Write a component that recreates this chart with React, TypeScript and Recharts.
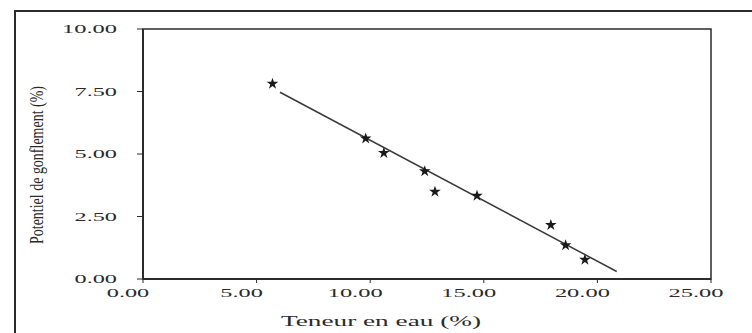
import { ScatterChart, Scatter, XAxis, YAxis, ReferenceArea, Symbols } from "recharts"

// measured points: teneur en eau (%) vs potentiel de gonflement (%)
const waterContent = [5.7, 9.8, 10.6, 12.4, 12.85, 14.7, 17.95, 18.6, 19.45]
const swellPotential = [7.81, 5.62, 5.04, 4.31, 3.49, 3.33, 2.16, 1.35, 0.77]

// fitted line, read at its two ends
const fitX = [6.03, 20.85]
const fitY = [7.47, 0.3]

const xTicks = [0, 5, 10, 15, 20, 25]
const yTicks = [0, 2.5, 5, 7.5, 10]

const points = waterContent.map((x, i) => ({ x, y: swellPotential[i] }))
const fitLine = fitX.map((x, i) => ({ x, y: fitY[i] }))

const ink = "#2b2b2b"
const font = "'Liberation Serif', 'Times New Roman', serif"

// the scan is stretched sideways, so the glyphs are widened with textLength
const stretchedWidth = (s: string) => s.split("").reduce((w, c) => w + (c === "." ? 5 : 12.5), 0)

function XTick({ x, y, payload }: any) {
  const label = payload.value.toFixed(2)
  return (
    <text x={x - 15} y={y + 12} textAnchor="middle" fontSize={12} fontFamily={font} fill={ink}
      textLength={stretchedWidth(label)} lengthAdjust="spacingAndGlyphs">
      {label}
    </text>
  )
}

function YTick({ x, y, payload }: any) {
  const label = payload.value.toFixed(2)
  return (
    <text x={x} y={y + 4} textAnchor="end" fontSize={12} fontFamily={font} fill={ink}
      textLength={stretchedWidth(label)} lengthAdjust="spacingAndGlyphs">
      {label}
    </text>
  )
}

function YTitle({ viewBox }: any) {
  const cx = viewBox.x + 37
  const cy = viewBox.y + viewBox.height / 2 + 11
  return (
    <text x={cx} y={cy} transform={`rotate(-90, ${cx}, ${cy})`} textAnchor="middle" dominantBaseline="central"
      fontSize={18} fontFamily={font} fill={ink} textLength={158} lengthAdjust="spacingAndGlyphs">
      Potentiel de gonflement (%)
    </text>
  )
}

function XTitle({ viewBox }: any) {
  const cx = viewBox.x + viewBox.width / 2 - 46
  return (
    <text x={cx} y={326} textAnchor="middle" fontSize={14} fontFamily={font} fill={ink}
      textLength={200} lengthAdjust="spacingAndGlyphs">
      Teneur en eau (%)
    </text>
  )
}

const noDot = () => <g />

function StarDot({ cx, cy }: any) {
  return <Symbols type="star" size={42} cx={cx} cy={cy} fill="#1a1a1a" />
}

export default function App() {
  return (
    <div style={{ position: "relative", width: 752, height: 333, background: "#fff", overflow: "hidden" }}>
      <style>{"body{margin:0}"}</style>
      {/* frame of the scanned figure */}
      <div style={{ position: "absolute", left: 14, top: 10, width: 760, height: 340, borderTop: `2px solid ${ink}`, borderLeft: `2px solid ${ink}` }} />
      <ScatterChart width={752} height={333} margin={{ top: 29, right: 41, left: 0, bottom: 0 }}>
        <XAxis type="number" dataKey="x" domain={[0, 25]} ticks={xTicks} height={54}
          axisLine={{ stroke: ink, strokeWidth: 2 }} tickLine={{ stroke: ink }} tickSize={4}
          tick={<XTick />} label={<XTitle />} />
        <YAxis type="number" dataKey="y" domain={[0, 10]} ticks={yTicks} width={143}
          axisLine={{ stroke: ink, strokeWidth: 2 }} tickLine={{ stroke: ink }} tickSize={6} tickMargin={20}
          tick={<YTick />} label={<YTitle />} />
        <ReferenceArea x1={0} x2={25} y1={0} y2={10} fill="none" stroke={ink} strokeWidth={1.5} fillOpacity={0} />
        <Scatter data={fitLine} line={{ stroke: "#3a3a3a", strokeWidth: 1.5 }} shape={noDot} isAnimationActive={false} />
        <Scatter data={points} shape={<StarDot />} isAnimationActive={false} />
      </ScatterChart>
    </div>
  )
}
